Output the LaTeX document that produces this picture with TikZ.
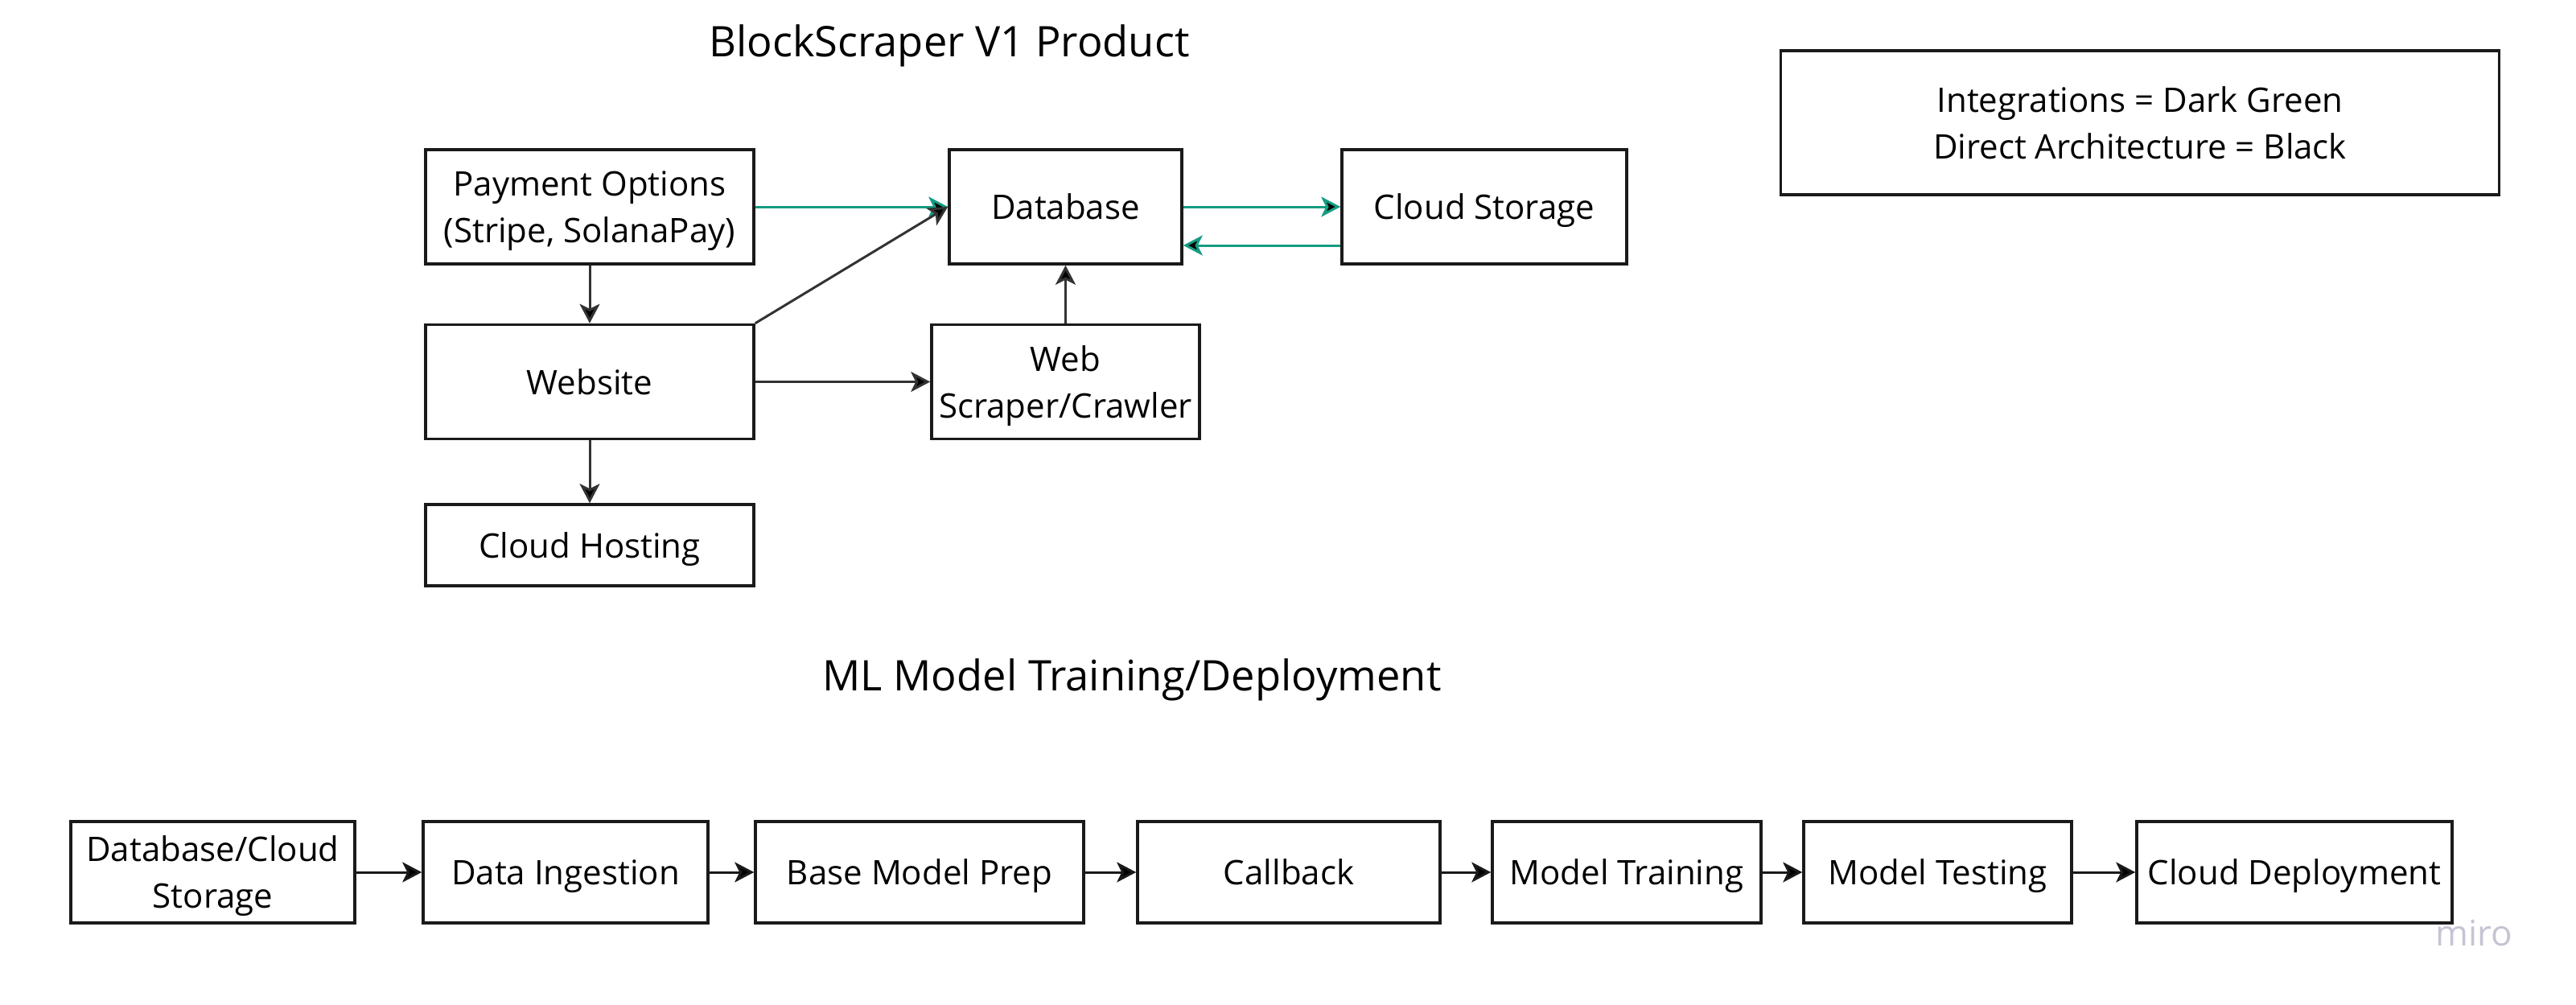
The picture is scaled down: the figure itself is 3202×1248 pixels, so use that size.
\documentclass[tikz,border=0pt]{standalone}
\usepackage{fontspec}
\setmainfont{Open Sans}
\usepackage{xcolor}
\definecolor{integ}{RGB}{22,156,130}
\definecolor{arch}{RGB}{51,51,51}
\definecolor{edgeblack}{RGB}{26,26,26}
\definecolor{watermark}{RGB}{196,196,212}
\usepackage{tikz}
\usetikzlibrary{arrows.meta, positioning}

\begin{document}
\begin{tikzpicture}
[x=0.5pt, y=-0.5pt,
 >={Stealth[length=12pt,width=12.5pt,inset=3pt]},
 line width=1.5pt,
 every edge/.append style={->},
 every node/.style={font=\fontsize{21pt}{29pt}\selectfont},
 box/.style={draw=edgeblack, line width=1.75pt, align=center, inner sep=0pt,
   text depth=0pt, minimum height=71pt},
 title/.style={font=\fontsize{26.2pt}{32pt}\selectfont},
 integration/.style={draw=integ},
 direct/.style={draw=arch},
]

\useasboundingbox (0,0) rectangle (3202,1248);

% product architecture
\node[title] (ptitle) at (1180,57) {BlockScraper V1 Product};

\node[box, minimum width=204pt] (pay) at (733,257) {Payment Options\\(Stripe, SolanaPay)};
\node[box, minimum width=144.5pt] (db) at (1324.5,257) {Database};
\node[box, minimum width=177pt] (cstore) at (1845,257) {Cloud Storage};
\node[box, minimum width=204pt] (web) at (733,474.5) {Website};
\node[box, minimum width=166.5pt] (scraper) at (1324.5,474.5) {Web\\Scraper/Crawler};
\node[box, minimum width=204pt, minimum height=50.5pt] (host) at (733,677.5) {Cloud Hosting};

\node[box, minimum width=446.5pt, minimum height=89.5pt] (legend) at (2660,152.5)
  {Integrations = Dark Green\\Direct Architecture = Black};

\draw[integration]
(pay)   edge  (db)
(db)    edge  (cstore)
([yshift=-24pt]cstore.west) edge ([yshift=-24pt]db.east);

\draw[direct]
(pay)              edge  (web)
(web.north east)   edge  (db.west)
(web)              edge  (scraper)
(scraper)          edge  (db)
(web)              edge  (host);

% ml pipeline
\node[title] (mltitle) at (1407,845) {ML Model Training/Deployment};

\node[box, minimum width=176.5pt, minimum height=63pt] (m1) at (264.5,1084) {Database/Cloud\\Storage};
\node[box, minimum width=177pt, minimum height=63pt] (m2) at (703,1084) {Data Ingestion};
\node[box, minimum width=204pt, minimum height=63pt] (m3) at (1143,1084) {Base Model Prep};
\node[box, minimum width=188pt, minimum height=63pt] (m4) at (1602,1084) {Callback};
\node[box, minimum width=167pt, minimum height=63pt] (m5) at (2022,1084) {Model Training};
\node[box, minimum width=166.5pt, minimum height=63pt] (m6) at (2408.5,1084) {Model Testing};
\node[box, minimum width=196pt, minimum height=63pt] (m7) at (2852,1084) {Cloud Deployment};

\draw[draw=edgeblack]
(m1) edge (m2)
(m2) edge (m3)
(m3) edge (m4)
(m4) edge (m5)
(m5) edge (m6)
(m6) edge (m7);

\node[text=watermark, font=\fontsize{22pt}{26pt}\selectfont] (miro) at (3075,1160) {miro};
\end{tikzpicture}
\end{document}
